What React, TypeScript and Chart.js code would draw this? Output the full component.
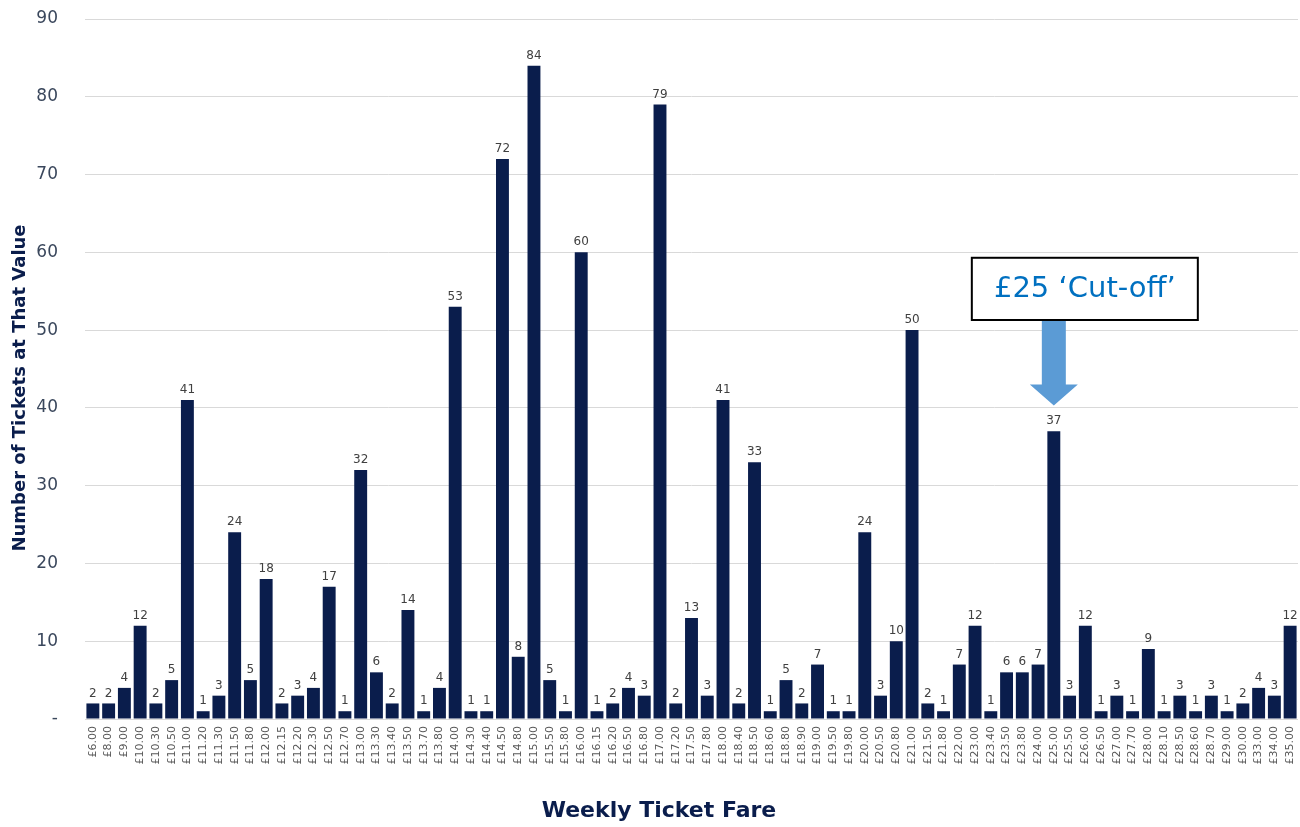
import React, { useEffect, useRef } from "react";
import { Chart, registerables } from "chart.js";

Chart.register(...registerables);

const fareLabels: string[] = [
  "£6.00", "£8.00", "£9.00", "£10.00", "£10.30", "£10.50", "£11.00", "£11.20", "£11.30", "£11.50",
  "£11.80", "£12.00", "£12.15", "£12.20", "£12.30", "£12.50", "£12.70", "£13.00", "£13.30", "£13.40",
  "£13.50", "£13.70", "£13.80", "£14.00", "£14.30", "£14.40", "£14.50", "£14.80", "£15.00", "£15.50",
  "£15.80", "£16.00", "£16.15", "£16.20", "£16.50", "£16.80", "£17.00", "£17.20", "£17.50", "£17.80",
  "£18.00", "£18.40", "£18.50", "£18.60", "£18.80", "£18.90", "£19.00", "£19.50", "£19.80", "£20.00",
  "£20.50", "£20.80", "£21.00", "£21.50", "£21.80", "£22.00", "£23.00", "£23.40", "£23.50", "£23.80",
  "£24.00", "£25.00", "£25.50", "£26.00", "£26.50", "£27.00", "£27.70", "£28.00", "£28.10", "£28.50",
  "£28.60", "£28.70", "£29.00", "£30.00", "£33.00", "£34.00", "£35.00",
];

const ticketCounts: number[] = [
  2, 2, 4, 12, 2, 5, 41, 1, 3, 24,
  5, 18, 2, 3, 4, 17, 1, 32, 6, 2,
  14, 1, 4, 53, 1, 1, 72, 8, 84, 5,
  1, 60, 1, 2, 4, 3, 79, 2, 13, 3,
  41, 2, 33, 1, 5, 2, 7, 1, 1, 24,
  3, 10, 50, 2, 1, 7, 12, 1, 6, 6,
  7, 37, 3, 12, 1, 3, 1, 9, 1, 3,
  1, 3, 1, 2, 4, 3, 12,
];

const yTicks: number[] = [0, 10, 20, 30, 40, 50, 60, 70, 80, 90];

const xTitle = "Weekly Ticket Fare";
const yTitle = "Number of Tickets at That Value";
const cutoffFare = "£25.00";
const cutoffText = "£25 \u2018Cut-off\u2019";
// annotation placement in data units (value axis)
const arrowTipValue = 40.3;
const arrowTopValue = 51.3;
const boxTopValue = 59.3;

const FONT = "'DejaVu Sans', Verdana, sans-serif";
const NAVY = "#0a1d4c";

const overlayPlugin = {
  id: "overlay",
  afterDatasetsDraw(chart: any) {
    const ctx = chart.ctx;
    const meta = chart.getDatasetMeta(0);
    ctx.save();
    // value labels
    ctx.font = `12px ${FONT}`;
    ctx.fillStyle = "#404040";
    ctx.textAlign = "center";
    ctx.textBaseline = "bottom";
    meta.data.forEach((bar: any, i: number) => {
      ctx.fillText(String(ticketCounts[i]), bar.x, bar.y - 4);
    });

    // axis titles
    ctx.fillStyle = NAVY;
    ctx.font = `bold 22px ${FONT}`;
    ctx.textBaseline = "middle";
    ctx.fillText(xTitle, 659, 811);
    ctx.save();
    ctx.translate(20, 388);
    ctx.rotate(-Math.PI / 2);
    ctx.font = `bold 18px ${FONT}`;
    ctx.fillText(yTitle, 0, 0);
    ctx.restore();

    // cut-off annotation
    const xs = chart.scales.x;
    const ys = chart.scales.y;
    const cx = xs.getPixelForValue(fareLabels.indexOf(cutoffFare));
    const tipY = ys.getPixelForValue(arrowTipValue);
    const topY = ys.getPixelForValue(arrowTopValue);
    const boxTop = ys.getPixelForValue(boxTopValue);
    const headH = 21;
    const shaftHalf = 12;
    const headHalf = 24;
    ctx.fillStyle = "#5b9bd5";
    ctx.beginPath();
    ctx.moveTo(cx - shaftHalf, topY);
    ctx.lineTo(cx + shaftHalf, topY);
    ctx.lineTo(cx + shaftHalf, tipY - headH);
    ctx.lineTo(cx + headHalf, tipY - headH);
    ctx.lineTo(cx, tipY);
    ctx.lineTo(cx - headHalf, tipY - headH);
    ctx.lineTo(cx - shaftHalf, tipY - headH);
    ctx.closePath();
    ctx.fill();

    const bx = cx - 82;
    const bw = 226;
    const bh = topY - boxTop;
    ctx.fillStyle = "#ffffff";
    ctx.fillRect(bx, boxTop, bw, bh);
    ctx.strokeStyle = "#000000";
    ctx.lineWidth = 2;
    ctx.strokeRect(bx, boxTop, bw, bh);
    ctx.fillStyle = "#0070c0";
    ctx.font = `29px ${FONT}`;
    ctx.textAlign = "center";
    ctx.textBaseline = "middle";
    ctx.fillText(cutoffText, bx + bw / 2, boxTop + bh / 2 + 1);
    ctx.restore();
  },
};

export default function App() {
  const canvasRef = useRef<HTMLCanvasElement | null>(null);

  useEffect(() => {
    document.body.style.margin = "0";
    const canvas = canvasRef.current;
    if (!canvas) return;
    const chart = new Chart(canvas, {
      type: "bar",
      data: {
        labels: fareLabels,
        datasets: [
          {
            data: ticketCounts,
            backgroundColor: NAVY,
            borderWidth: 0,
            barPercentage: 0.82,
            categoryPercentage: 1,
          },
        ],
      },
      options: {
        responsive: false,
        animation: false,
        devicePixelRatio: 1,
        layout: { padding: { top: 19, right: 2, left: 0, bottom: 0 } },
        plugins: {
          legend: { display: false },
          tooltip: { enabled: false },
          title: { display: false },
        },
        scales: {
          x: {
            grid: { display: false, drawTicks: false },
            border: { display: false },
            ticks: {
              autoSkip: false,
              minRotation: 90,
              maxRotation: 90,
              padding: 7,
              color: "#595959",
              font: { family: FONT, size: 11 },
            },
            afterFit(scale: any) {
              scale.height = 108;
              scale.paddingLeft = 0;
              scale.paddingRight = 0;
            },
          },
          y: {
            min: 0,
            max: 90,
            afterBuildTicks(scale: any) {
              scale.ticks = yTicks.map((v) => ({ value: v }));
            },
            grid: { color: "#d9d9d9", drawTicks: false, lineWidth: 1 },
            border: { display: false },
            ticks: {
              padding: 27,
              color: "#3a475c",
              font: { family: FONT, size: 17 },
              callback: (v: any) => (Number(v) === 0 ? "-" : String(v)),
            },
            afterFit(scale: any) {
              scale.width = 85;
              scale.paddingTop = 0;
              scale.paddingBottom = 0;
            },
          },
        },
      },
      plugins: [overlayPlugin],
    });
    return () => chart.destroy();
  }, []);

  return <canvas ref={canvasRef} width={1300} height={827} style={{ display: "block" }} />;
}
